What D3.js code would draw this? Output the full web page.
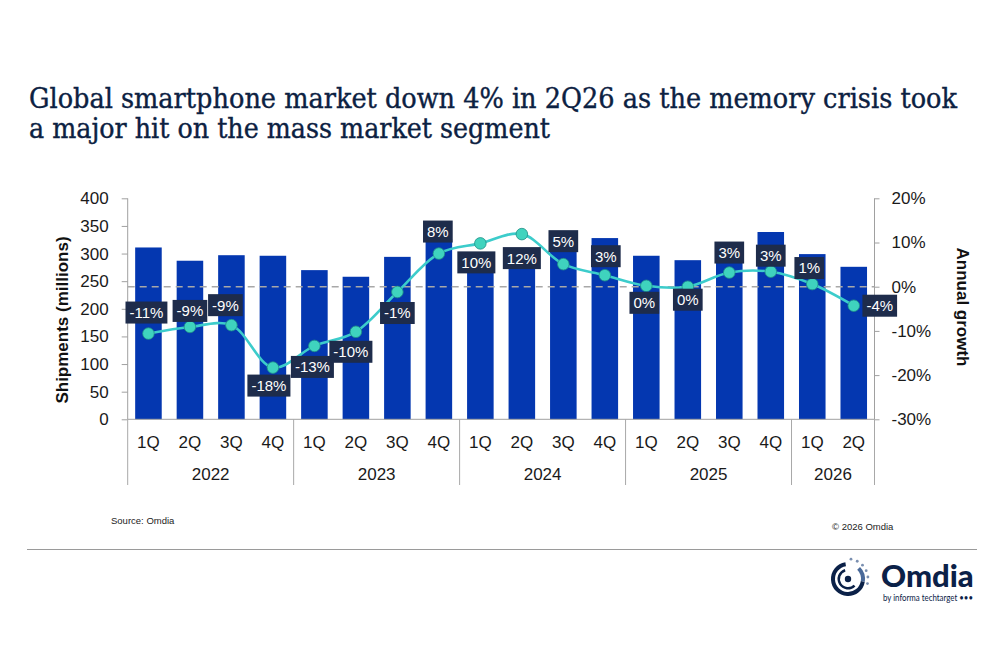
<!DOCTYPE html>
<html lang="en">
<head>
<meta charset="UTF-8">
<title>Global smartphone market</title>
<script src="https://d3js.org/d3.v7.min.js"></script>
<style>
body {
  margin: 0;
  background: #fff;
}
svg {
  display: block;
  font-family: "Liberation Sans", Arial, sans-serif;
}
.title {
  font-family: "DejaVu Serif Condensed", "DejaVu Serif", serif;
  font-stretch: condensed;
  font-size: 27px;
  fill: #0c2142;
  stroke: #0c2142;
  stroke-width: 0.35px;
}
.tick-label {
  font-size: 17px;
  fill: #1a1a1a;
}
.axis-title {
  font-size: 17px;
  font-weight: bold;
  fill: #111;
}
.growth-label {
  font-size: 15px;
  fill: #fff;
}
</style>
</head>
<body>
<div id="chart"></div>
<script>
// categories
var years = ["2022", "2023", "2024", "2025", "2026"];
var quartersPerYear = [4, 4, 4, 4, 2];
var quarters = ["1Q","2Q","3Q","4Q","1Q","2Q","3Q","4Q","1Q","2Q","3Q","4Q","1Q","2Q","3Q","4Q","1Q","2Q"];

// shipments, millions
var shipments = [311, 287, 297, 296, 270, 258, 294, 326, 296, 289, 316, 328, 296, 288, 320, 339, 299, 276];

// annual growth, %
var growth = [-10.6, -9.1, -8.7, -18.3, -13.4, -10.2, -1.2, 7.5, 9.8, 11.9, 5.1, 2.6, 0.2, 0.0, 3.2, 3.4, 0.6, -4.3];

// ticks
var leftTicks = [0, 50, 100, 150, 200, 250, 300, 350, 400];
var rightTicks = [-30, -20, -10, 0, 10, 20];

// where each growth label sits relative to its dot [dx, dy]
var labelOffset = [[-2,-21],[0,-16],[-6,-20],[-4,18],[-2,21],[-5,20],[0,21],[-1,-22],
                   [-4,19],[0,24],[0,-23],[1,-19],[-2,17],[0,13],[0,-20],[0,-16],[-3,-16],[26,0]];

var W = 990, H = 660;
var svg = d3.select("#chart").append("svg")
    .attr("width", W)
    .attr("height", H);

// title
var titleLines = [
  {t: "Global smartphone market down 4% in 2Q26 as the memory crisis took", y: 108, len: 928},
  {t: "a major hit on the mass market segment", y: 138, len: 521}
];
svg.selectAll(".title").data(titleLines).enter().append("text")
    .attr("class", "title")
    .attr("x", 29)
    .attr("y", function(d) { return d.y; })
    .attr("textLength", function(d) { return d.len; })
    .attr("lengthAdjust", "spacingAndGlyphs")
    .text(function(d) { return d.t; });

var x0 = 127.7, x1 = 874.5, yTop = 198.3, yBot = 419.3;

var idx = d3.range(quarters.length);
var x = d3.scaleBand()
    .domain(idx)
    .range([x0, x1])
    .paddingInner(0.36)
    .paddingOuter(0.18);

var yL = d3.scaleLinear().domain([0, 400]).range([yBot, yTop]);
var yR = d3.scaleLinear().domain([-30, 20]).range([yBot, yTop]);

// bars
svg.append("g").selectAll("rect").data(shipments).enter().append("rect")
    .attr("x", function(d, i) { return x(i); })
    .attr("y", function(d) { return yL(d); })
    .attr("width", x.bandwidth())
    .attr("height", function(d) { return yL(0) - yL(d); })
    .attr("fill", "#0437b0");

// left axis
var axL = svg.append("g")
    .attr("transform", "translate(" + x0 + ",0)")
    .call(d3.axisLeft(yL).tickValues(leftTicks).tickSize(6).tickPadding(13));
axL.select(".domain").attr("stroke", "#a0a0a0").attr("d", "M0," + yTop + "V" + yBot);
axL.selectAll(".tick line").attr("stroke", "#a0a0a0");
axL.selectAll(".tick text").attr("class", "tick-label").attr("font-size", null).attr("font-family", null);

// right axis
var axR = svg.append("g")
    .attr("transform", "translate(" + x1 + ",0)")
    .call(d3.axisRight(yR).tickValues(rightTicks).tickSize(5).tickPadding(12)
      .tickFormat(function(d) { return d + "%"; }));
axR.select(".domain").attr("stroke", "#a0a0a0").attr("d", "M0," + yTop + "V" + yBot);
axR.selectAll(".tick line").attr("stroke", "#a0a0a0");
axR.selectAll(".tick text").attr("class", "tick-label").attr("font-size", null).attr("font-family", null);

// baseline
svg.append("line")
    .attr("x1", x0).attr("x2", x1)
    .attr("y1", yBot).attr("y2", yBot)
    .attr("stroke", "#a0a0a0");

// zero growth dashed line
svg.append("line")
    .attr("x1", x0).attr("x2", x1)
    .attr("y1", yR(0)).attr("y2", yR(0))
    .attr("stroke", "#a8a8a8")
    .attr("stroke-width", 1.5)
    .attr("stroke-dasharray", "7,5");

// category labels
svg.append("g").selectAll("text").data(quarters).enter().append("text")
    .attr("class", "tick-label")
    .attr("x", function(d, i) { return x(i) + x.bandwidth() / 2; })
    .attr("y", 447.5)
    .attr("text-anchor", "middle")
    .text(function(d) { return d; });

// year groups
var starts = [];
var acc = 0;
quartersPerYear.forEach(function(n) { starts.push(acc); acc += n; });
var step = x.step();
var sepX = starts.map(function(s) { return x0 + s * step; }).concat([x1]);
svg.append("g").selectAll("line").data(sepX).enter().append("line")
    .attr("x1", function(d) { return d; }).attr("x2", function(d) { return d; })
    .attr("y1", yBot).attr("y2", 485)
    .attr("stroke", "#a8a8a8");
svg.append("g").selectAll("text").data(years).enter().append("text")
    .attr("class", "tick-label")
    .attr("x", function(d, i) { return x0 + (starts[i] + quartersPerYear[i] / 2) * step; })
    .attr("y", 479.5)
    .attr("text-anchor", "middle")
    .text(function(d) { return d; });

// axis titles
svg.append("text")
    .attr("class", "axis-title")
    .attr("transform", "translate(68,320) rotate(-90)")
    .attr("text-anchor", "middle")
    .text("Shipments (millions)");
svg.append("text")
    .attr("class", "axis-title")
    .attr("transform", "translate(957,307) rotate(90)")
    .attr("text-anchor", "middle")
    .text("Annual growth");

// growth line
var cx = function(i) { return x(i) + x.bandwidth() / 2; };
var line = d3.line()
    .x(function(d, i) { return cx(i); })
    .y(function(d) { return yR(d); })
    .curve(d3.curveCatmullRom.alpha(0.5));
svg.append("path")
    .datum(growth)
    .attr("d", line)
    .attr("fill", "none")
    .attr("stroke", "#3ccccb")
    .attr("stroke-width", 2.6);

svg.append("g").selectAll("circle").data(growth).enter().append("circle")
    .attr("cx", function(d, i) { return cx(i); })
    .attr("cy", function(d) { return yR(d); })
    .attr("r", 5.8)
    .attr("fill", "#3fd3be")
    .attr("stroke", "#1f8f86")
    .attr("stroke-width", 0.8);

// growth labels
var lab = svg.append("g").selectAll("g").data(growth).enter().append("g")
    .attr("transform", function(d, i) {
      return "translate(" + (cx(i) + labelOffset[i][0]) + "," + (yR(d) + labelOffset[i][1]) + ")";
    });
lab.append("rect").attr("fill", "#1e2c4b");
lab.append("text")
    .attr("class", "growth-label")
    .attr("text-anchor", "middle")
    .attr("dy", "0.36em")
    .text(function(d) { return Math.round(d) + "%"; });
lab.each(function() {
  var g = d3.select(this);
  var w = g.select("text").node().getComputedTextLength() + 8;
  g.select("rect").attr("x", -w / 2).attr("y", -11).attr("width", w).attr("height", 22);
});

// footer
svg.append("text")
    .attr("x", 111).attr("y", 524)
    .attr("font-size", 9.5).attr("fill", "#222")
    .text("Source: Omdia");
svg.append("text")
    .attr("x", 832).attr("y", 530)
    .attr("font-size", 9.5).attr("fill", "#222")
    .text("\u00a9 2026 Omdia");
svg.append("line")
    .attr("x1", 27).attr("x2", 977)
    .attr("y1", 549.5).attr("y2", 549.5)
    .attr("stroke", "#9a9a9a")
    .attr("stroke-width", 1.2);

// logo
var logo = svg.append("g").attr("transform", "translate(848,579)");
var arc = d3.arc();
logo.append("path")
    .attr("d", arc({innerRadius: 13, outerRadius: 17, startAngle: Math.PI * 0.55, endAngle: Math.PI * 1.95}))
    .attr("fill", "#0b2148");
logo.append("path")
    .attr("d", arc({innerRadius: 8, outerRadius: 10.5, startAngle: Math.PI * 0.75, endAngle: Math.PI * 1.9}))
    .attr("fill", "#0b2148");
logo.append("path")
    .attr("d", arc({innerRadius: 13, outerRadius: 17, startAngle: Math.PI * 0.25, endAngle: Math.PI * 0.55}))
    .attr("fill", "#4a6a9a");
logo.append("circle").attr("r", 3.2).attr("cx", 0).attr("cy", 0).attr("fill", "#0b2148");
d3.range(6).forEach(function(k) {
  var a = -Math.PI / 2 + 0.15 + k * 0.33;
  logo.append("circle")
      .attr("cx", Math.cos(a) * 20).attr("cy", Math.sin(a) * 20)
      .attr("r", 1.4).attr("fill", "#7a8fb0");
});
svg.append("text")
    .attr("x", 881).attr("y", 587)
    .attr("font-family", "Lato, sans-serif")
    .attr("font-weight", 900)
    .attr("font-size", 31)
    .attr("fill", "#0b2148")
    .text("Omdia");
svg.append("text")
    .attr("x", 883).attr("y", 601)
    .attr("font-family", "Lato, sans-serif")
    .attr("font-size", 8.5)
    .attr("fill", "#0b2148")
    .attr("textLength", 90)
    .attr("lengthAdjust", "spacingAndGlyphs")
    .text("by informa techtarget \u2022\u2022\u2022");
</script>
</body>
</html>
